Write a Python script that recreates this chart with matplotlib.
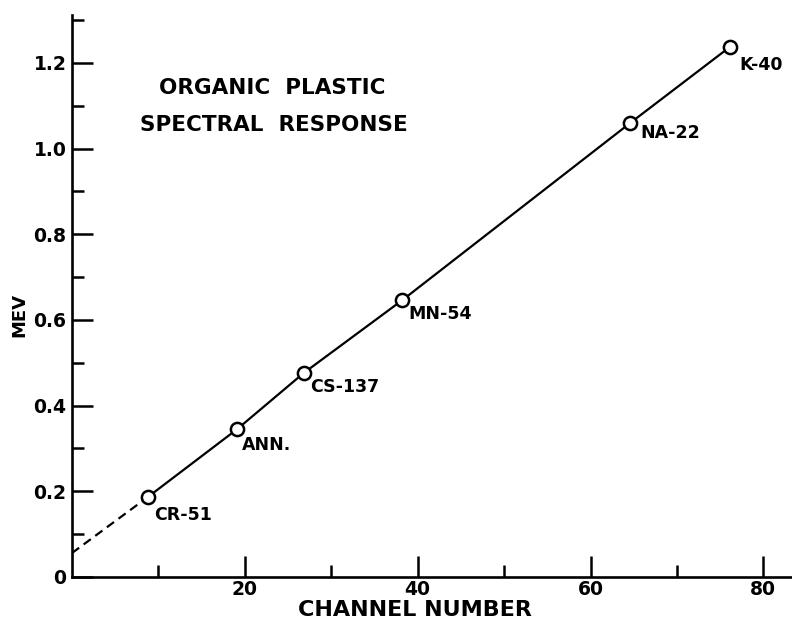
import matplotlib
matplotlib.use("Agg")
import matplotlib.pyplot as plt
from matplotlib.ticker import FixedLocator

# Data
sources = ["CR-51", "ANN.", "CS-137", "MN-54", "NA-22", "K-40"]
channel = [8.8, 19.1, 26.8, 38.2, 64.6, 76.1]
mev = [0.187, 0.345, 0.476, 0.646, 1.060, 1.237]
intercept_mev = 0.056  # dashed extrapolation to channel 0

x_ticks = [20, 40, 60, 80]
x_labels = ["20", "40", "60", "80"]
x_minor = [10, 30, 50, 70]
y_ticks = [0.0, 0.2, 0.4, 0.6, 0.8, 1.0, 1.2]
y_labels = ["0", "0.2", "0.4", "0.6", "0.8", "1.0", "1.2"]
y_minor = [0.1, 0.3, 0.5, 0.7, 0.9, 1.1, 1.3]

plt.rcParams['font.family'] = ['DejaVu Sans']
plt.rcParams['font.weight'] = 'bold'

fig = plt.figure(figsize=(7.92, 6.19), dpi=100)
ax = fig.add_axes([72/792, 42/619, (791-72)/792, (577-15)/619])

ax.plot([0, channel[0]], [intercept_mev, mev[0]], color='black', lw=1.6,
        ls=(0, (4, 2.5)), zorder=2)
ax.plot(channel, mev, color='black', lw=1.6, zorder=2)
ax.plot(channel, mev, ls='none', marker='o', ms=9.5, mfc='white', mec='black',
        mew=1.8, zorder=3)

offsets = {"CR-51": (4.3, -6.8), "ANN.": (3.6, -4.7), "CS-137": (5.0, -3.2),
           "MN-54": (4.3, -3.2), "NA-22": (7.2, -1.1), "K-40": (7.2, -6.1)}
for s, x, y in zip(sources, channel, mev):
    dx, dy = offsets[s]
    ax.annotate(s, (x, y), xytext=(dx, dy), textcoords='offset points',
                ha='left', va='top', fontsize=12.5, fontweight='bold')

fig.text(159/792, 1 - 88.5/619, "ORGANIC  PLASTIC",
         ha='left', va='center', fontsize=15.5, fontweight='bold')
fig.text(140/792, 1 - 125/619, "SPECTRAL  RESPONSE",
         ha='left', va='center', fontsize=15.5, fontweight='bold')

ax.set_xlim(0, 83.2)
ax.set_ylim(0, 1.312)

ax.spines['top'].set_visible(False)
ax.spines['right'].set_visible(False)
for sp in ('left', 'bottom'):
    ax.spines[sp].set_linewidth(1.9)

ax.xaxis.set_major_locator(FixedLocator(x_ticks))
ax.set_xticklabels(x_labels)
ax.xaxis.set_minor_locator(FixedLocator(x_minor))
ax.yaxis.set_major_locator(FixedLocator(y_ticks))
ax.set_yticklabels(y_labels)
ax.yaxis.set_minor_locator(FixedLocator(y_minor))

ax.tick_params(axis='both', which='major', direction='in', length=15, width=1.8,
               labelsize=13.5)
ax.tick_params(axis='both', which='minor', direction='in', length=8.5, width=1.8)
ax.tick_params(axis='x', which='major', pad=2.5)
ax.tick_params(axis='y', which='major', pad=4)
for lab in ax.get_xticklabels() + ax.get_yticklabels():
    lab.set_fontweight('bold')

ax.set_xlabel("CHANNEL NUMBER", fontsize=16, fontweight='bold')
ax.xaxis.set_label_coords((415 - 72) / 719, (577 - 600) / 562)
ax.set_ylabel("MEV", fontsize=13, fontweight='bold')
ax.yaxis.set_label_coords((28 - 72) / 719, (577 - 315) / 562)

fig.savefig("out.png", dpi=100)
